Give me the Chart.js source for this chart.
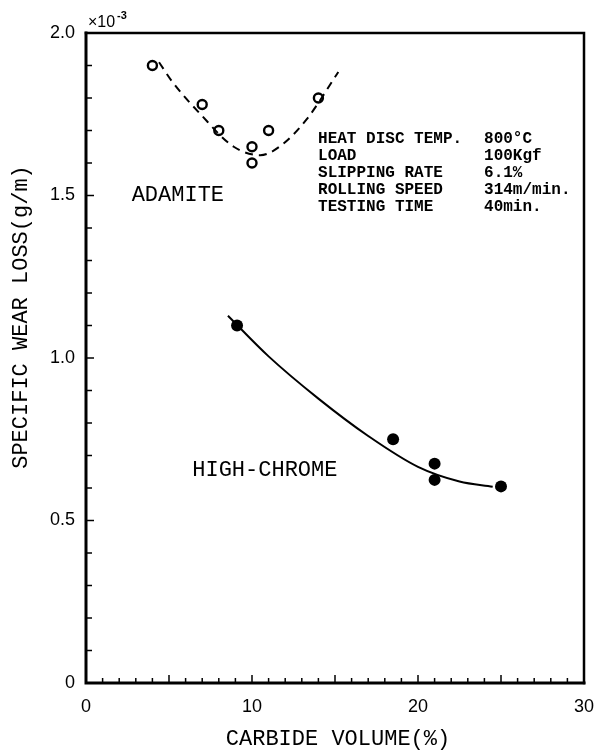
<!DOCTYPE html>
<html>
<head>
<meta charset="utf-8">
<script src="https://cdn.jsdelivr.net/npm/chart.js@4/dist/chart.umd.min.js"></script>
<style>
  html, body { margin: 0; padding: 0; background: #fff; }
  #wrap { width: 605px; height: 751px; }
</style>
</head>
<body>
<div id="wrap"><canvas id="chart"></canvas></div>
<script>
var adamiteX = [4, 7, 8, 10, 10, 11, 14];
var adamiteY = [1.90, 1.78, 1.70, 1.65, 1.60, 1.70, 1.80];
var chromeX = [9.1, 18.5, 21, 21, 25];
var chromeY = [1.10, 0.75, 0.675, 0.625, 0.605];

// hand drawn fit curves
var adamiteFitX = [4.4, 5.2, 6.9, 8.9, 10.5, 11.7, 13.3, 15.2];
var adamiteFitY = [1.91, 1.85, 1.75, 1.65, 1.624, 1.652, 1.735, 1.88];
var chromeFitX = [8.55, 11, 14, 17, 20, 22.5, 24.5];
var chromeFitY = [1.13, 1.005, 0.875, 0.76, 0.665, 0.62, 0.604];

var xTicks = [0, 10, 20, 30];
var yTicks = [0, 0.5, 1.0, 1.5, 2.0];

var infoLabels = ['HEAT DISC TEMP.', 'LOAD', 'SLIPPING RATE', 'ROLLING SPEED', 'TESTING TIME'];
var infoValues = ['800\u00b0C', '100Kgf', '6.1%', '314m/min.', '40min.'];

function toPoints(xs, ys) {
    return xs.map(function (x, i) { return { x: x, y: ys[i] }; });
}

var mono = '"Liberation Mono", "DejaVu Sans Mono", monospace';

// frame, inward ticks and the text on the plot
var decorations = {
    id: 'decorations',
    afterDraw: function (chart) {
        var ctx = chart.ctx;
        var a = chart.chartArea;
        var xs = chart.scales.x;
        var ys = chart.scales.y;
        ctx.save();
        ctx.strokeStyle = '#000';
        ctx.lineCap = 'square';

        // frame
        ctx.lineWidth = 3;
        ctx.beginPath();
        ctx.moveTo(a.left, a.top);
        ctx.lineTo(a.left, a.bottom);
        ctx.lineTo(a.right, a.bottom);
        ctx.stroke();
        ctx.lineWidth = 2.5;
        ctx.beginPath();
        ctx.moveTo(a.left, a.top);
        ctx.lineTo(a.right, a.top);
        ctx.lineTo(a.right, a.bottom);
        ctx.stroke();

        // minor ticks
        ctx.lineWidth = 1.5;
        ctx.lineCap = 'butt';
        for (var i = 1; i < 30; i++) {
            var px = xs.getPixelForValue(i);
            var len = (i % 5 === 0) ? 8 : 5;
            ctx.beginPath();
            ctx.moveTo(px, a.bottom);
            ctx.lineTo(px, a.bottom - len);
            ctx.stroke();
        }
        for (var j = 1; j < 20; j++) {
            var py = ys.getPixelForValue(j / 10);
            var l2 = (j % 5 === 0) ? 8 : 6;
            ctx.beginPath();
            ctx.moveTo(a.left, py);
            ctx.lineTo(a.left + l2, py);
            ctx.stroke();
        }

        // x10^-3 multiplier
        ctx.fillStyle = '#000';
        ctx.textBaseline = 'alphabetic';
        ctx.textAlign = 'left';
        ctx.font = '16px "Liberation Sans", sans-serif';
        ctx.fillText('\u00d710', a.left + 2, a.top - 6);
        ctx.font = 'bold 11px "Liberation Sans", sans-serif';
        ctx.fillText('-3', a.left + 31, a.top - 14);

        // series names
        ctx.font = '22px ' + mono;
        ctx.textBaseline = 'middle';
        ctx.fillText('ADAMITE', xs.getPixelForValue(2.75), ys.getPixelForValue(1.5));
        ctx.fillText('HIGH-CHROME', xs.getPixelForValue(6.4), ys.getPixelForValue(0.656));

        // test conditions
        ctx.font = 'bold 16px ' + mono;
        var lx = xs.getPixelForValue(13.98);
        var vx = xs.getPixelForValue(23.98);
        for (var k = 0; k < infoLabels.length; k++) {
            var ly = a.top + 106 + k * 17;
            ctx.fillText(infoLabels[k], lx, ly);
            ctx.fillText(infoValues[k], vx, ly);
        }

        // axis titles
        ctx.font = '22px ' + mono;
        ctx.textAlign = 'center';
        ctx.fillText('CARBIDE VOLUME(%)', (a.left + a.right) / 2 + 3, 739);
        ctx.save();
        ctx.translate(21, 317);
        ctx.rotate(-Math.PI / 2);
        ctx.fillText('SPECIFIC WEAR LOSS(g/m)', 0, 0);
        ctx.restore();

        ctx.restore();
    }
};

var canvas = document.getElementById('chart');

var chart = new Chart(canvas, {
    type: 'scatter',
    data: {
        datasets: [
            {
                label: 'Adamite fit',
                data: toPoints(adamiteFitX, adamiteFitY),
                showLine: true,
                borderColor: '#000',
                borderWidth: 2,
                borderDash: [8, 6],
                cubicInterpolationMode: 'monotone',
                pointRadius: 0,
                fill: false
            },
            {
                label: 'High-chrome fit',
                data: toPoints(chromeFitX, chromeFitY),
                showLine: true,
                borderColor: '#000',
                borderWidth: 2,
                cubicInterpolationMode: 'monotone',
                pointRadius: 0,
                fill: false
            },
            {
                label: 'Adamite',
                data: toPoints(adamiteX, adamiteY),
                pointRadius: 4.5,
                pointBorderWidth: 2.4,
                pointBorderColor: '#000',
                pointBackgroundColor: '#fff'
            },
            {
                label: 'High-chrome',
                data: toPoints(chromeX, chromeY),
                pointRadius: 6,
                pointBorderWidth: 0,
                pointBackgroundColor: '#000'
            }
        ]
    },
    options: {
        responsive: true,
        maintainAspectRatio: false,
        animation: false,
        layout: {
            padding: { left: 0, top: 33, right: 21, bottom: 0 }
        },
        plugins: {
            legend: { display: false },
            tooltip: { enabled: false }
        },
        scales: {
            x: {
                type: 'linear',
                min: 0,
                max: 30,
                afterFit: function (scale) { scale.height = 68; },
                afterBuildTicks: function (scale) {
                    scale.ticks = xTicks.map(function (v) { return { value: v }; });
                },
                grid: { display: false },
                border: { display: false },
                ticks: {
                    color: '#000',
                    padding: 5,
                    maxRotation: 0,
                    font: { family: '"Liberation Sans", sans-serif', size: 18 },
                    callback: function (v) { return String(v); }
                }
            },
            y: {
                type: 'linear',
                min: 0,
                max: 2.0,
                afterFit: function (scale) { scale.width = 86; },
                afterBuildTicks: function (scale) {
                    scale.ticks = yTicks.map(function (v) { return { value: v }; });
                },
                grid: { display: false },
                border: { display: false },
                ticks: {
                    color: '#000',
                    padding: 3,
                    font: { family: '"Liberation Sans", sans-serif', size: 18 },
                    callback: function (v) { return v === 0 ? '0' : v.toFixed(1); }
                }
            }
        }
    },
    plugins: [decorations]
});
</script>
</body>
</html>
